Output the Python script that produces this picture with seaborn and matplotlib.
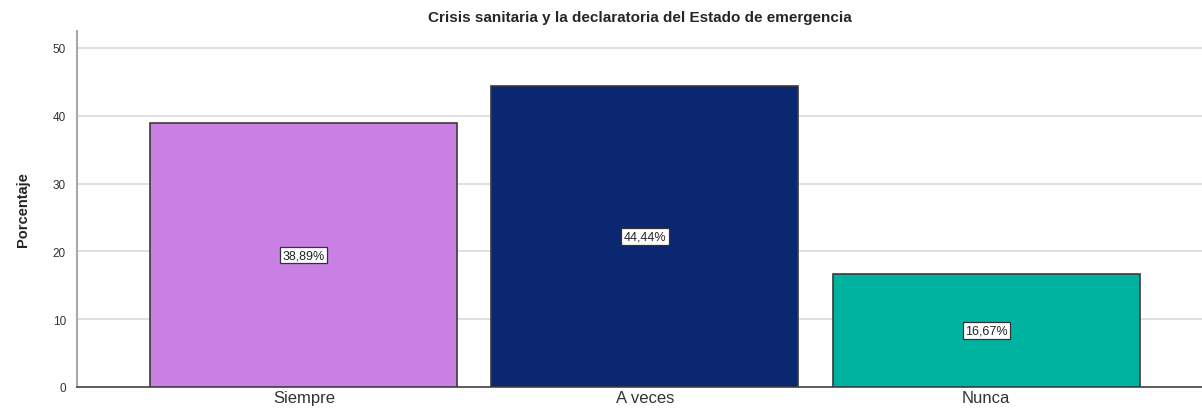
import seaborn as sns
from matplotlib import pyplot as plt
import pandas as pd

# data
categorias = ['Siempre', 'A veces', 'Nunca']
porcentajes = [38.89, 44.44, 16.67]
etiquetas = ['38,89%', '44,44%', '16,67%']
colores = ['#C97FE3', '#0B2771', '#00B3A0']
yticks = [0, 10, 20, 30, 40, 50]

df = pd.DataFrame({'categoria': categorias, 'porcentaje': porcentajes})

sns.set_style('white')
plt.rcParams['font.family'] = ['Liberation Sans', 'DejaVu Sans']

fig = plt.figure(figsize=(12.02, 4.10), dpi=100)
ax = fig.add_axes([77 / 1202, 1 - 388 / 410, 1 - 77 / 1202, (388 - 32) / 410])

sns.barplot(data=df, x='categoria', y='porcentaje', hue='categoria',
            palette=colores, saturation=1, width=0.9, edgecolor='#3a3a3a',
            linewidth=1.2, legend=False, ax=ax, zorder=3)

ax.set_xlim(-0.665, 2.633)
ax.set_ylim(0, 52.5)
ax.set_yticks(yticks)
ax.yaxis.grid(True, color='#dadada', linewidth=1.2, zorder=0)
ax.set_axisbelow(True)

for i, (v, lab) in enumerate(zip(porcentajes, etiquetas)):
    ax.text(i, v / 2, lab, ha='center', va='center', fontsize=9, color='#222',
            bbox=dict(boxstyle='square,pad=0.18', fc='white', ec='#333', lw=0.9),
            zorder=5)

ax.tick_params(axis='x', labelsize=12, colors='#333', length=0, pad=2)
ax.tick_params(axis='y', labelsize=8.5, colors='#333', length=0, pad=8)
ax.set_xlabel('')
ax.set_ylabel('Porcentaje', fontweight='bold', fontsize=10.5, labelpad=16)
ax.set_title('Crisis sanitaria y la declaratoria del Estado de emergencia',
             fontsize=11, fontweight='bold', pad=7)

for s in ['top', 'right']:
    ax.spines[s].set_visible(False)
ax.spines['left'].set_color('#a8a8a8')
ax.spines['left'].set_linewidth(1.5)
ax.spines['bottom'].set_color('#444')
ax.spines['bottom'].set_linewidth(1.2)

fig.savefig('out.png', dpi=100)
